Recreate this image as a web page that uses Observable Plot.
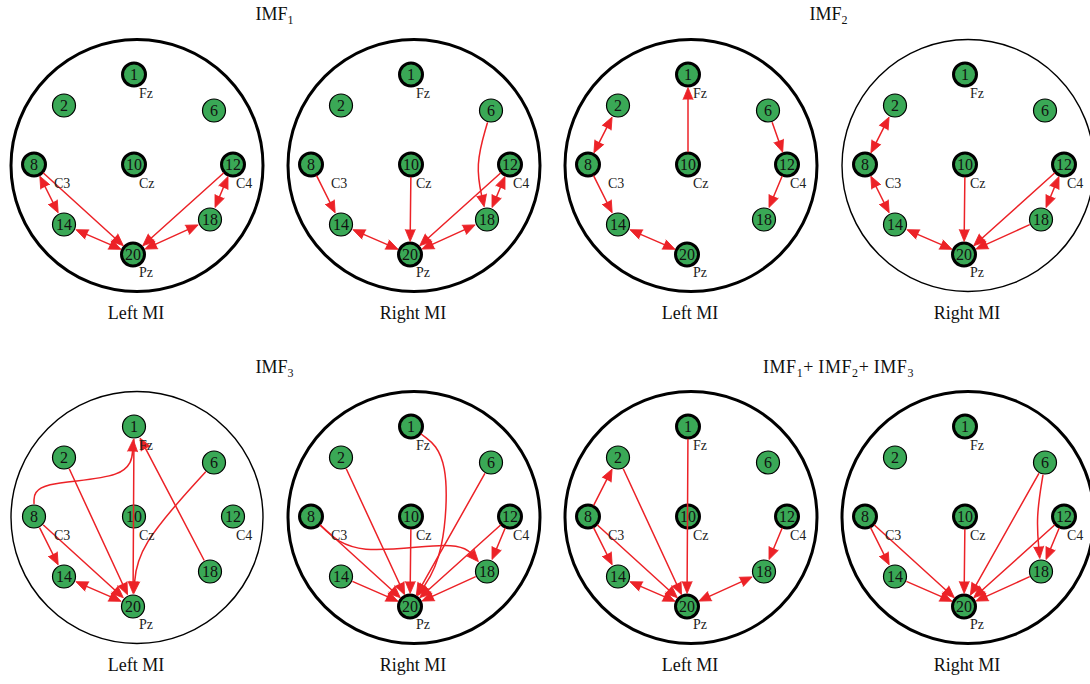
<!DOCTYPE html>
<html><head><meta charset="utf-8">
<script src="https://cdn.jsdelivr.net/npm/d3@7"></script>
<script src="https://cdn.jsdelivr.net/npm/@observablehq/plot@0.6"></script>
<style>
body{margin:0;background:#fff;}
#fig{position:relative;width:1090px;height:684px;overflow:hidden;background:#fff;font-family:"Liberation Serif","Times New Roman",serif;color:#111;}
.panel{position:absolute;width:277px;height:262px;}
.panel svg{display:block;overflow:visible;max-width:none !important;width:277px;height:262px;}
.title,.cap{position:absolute;transform:translateX(-50%);white-space:nowrap;font-size:18px;line-height:18px;}
.title sub{font-size:12px;vertical-align:-4px;line-height:0;}
</style></head><body><div id="fig"></div>
<script>
// ---- electrode montage (relative to head centre; y grows downward) ----
const electrodes = ["1","2","6","8","10","12","14","18","20"];
const electrodeX = [-3,-73,77,-103,-3,96,-73,73,-4];
const electrodeY = [-91,-60,-55,-1,-1,-1,59,54,89];
const siteNames  = ["Fz","C3","Cz","C4","Pz"];
const siteX      = [2,-83,2,99,2];
const siteY      = [-72,18,18,18,107];
const keyElectrodes = ["1","8","10","12","20"];

// ---- panels ----
const panelBand      = ["IMF1","IMF1","IMF2","IMF2","IMF3","IMF3","IMF1+IMF2+IMF3","IMF1+IMF2+IMF3"];
const panelCondition = ["Left MI","Right MI","Left MI","Right MI","Left MI","Right MI","Left MI","Right MI"];

// ---- directed connections: [from, to, kind, optional control points] ----
const edgesIMF1Left  = [["8","14","<->"],["8","20","->"],["14","20","<->"],["12","20","->"],["12","18","<->"],["18","20","<->"]];
const edgesIMF1Right = [["8","14","->"],["10","20","->"],["14","20","<->"],["12","20","->"],["12","18","<->"],["18","20","<->"],["6","18","->",[[61,0]]]];
const edgesIMF2Left  = [["10","1","->"],["2","8","<->"],["8","14","->"],["14","20","<->"],["6","12","->"],["12","18","->"]];
const edgesIMF2Right = [["2","8","<->"],["8","14","<->"],["14","20","<->"],["10","20","->"],["12","20","->"],["12","18","<->"],["18","20","->"]];
const edgesIMF3Left  = [["8","1","->",[[-103,-36],[-6,-38]]],["1","20","->"],["18","1","->"],["2","20","->"],["6","20","->",[[0,30]]],["8","14","->"],["8","20","->"],["14","20","<->"]];
const edgesIMF3Right = [["1","20","->",[[36,-62],[30,40]]],["2","20","->"],["6","20","->"],["8","20","->"],["8","18","->",[[-60,40],[45,22]]],["10","20","->"],["12","20","->"],["12","18","->"],["14","20","->"],["18","20","->"]];
const edgesSumLeft   = [["8","2","->"],["2","20","->"],["1","20","->"],["8","14","->"],["8","20","->"],["14","20","<->"],["12","18","->"],["18","20","<->"]];
const edgesSumRight  = [["8","14","->"],["8","20","->"],["14","20","->"],["10","20","->"],["6","20","->"],["6","18","->",[[68,0]]],["12","20","->"],["12","18","->"],["18","20","->"]];
const panelEdges = [edgesIMF1Left,edgesIMF1Right,edgesIMF2Left,edgesIMF2Right,edgesIMF3Left,edgesIMF3Right,edgesSumLeft,edgesSumRight];

// ---- styling ----
const headBold = [true,true,true,false,false,true,true,true];
const nodeBold = [true,true,true,true,false,true,true,true];
const RED = "#ec2227", GREEN = "#3aa856";
const NODE_R = 11.5, TIP_INSET = 13, HEAD_LEN = 12, HEAD_W = 5;
const W = 277, H = 262, HEAD_R = 126;

const nodes = electrodes.map((id,i)=>({id, x:electrodeX[i], y:electrodeY[i]}));
const pos = Object.fromEntries(nodes.map(n=>[n.id,[n.x,n.y]]));
const sites = siteNames.map((s,i)=>({s, x:siteX[i], y:siteY[i]}));

function unit(a,b){const dx=b[0]-a[0],dy=b[1]-a[1],l=Math.hypot(dx,dy);return [dx/l,dy/l];}
function deg(u){return Math.atan2(u[0],-u[1])*180/Math.PI;}

function buildEdges(list){
  const pts=[], heads=[];
  list.forEach(([a,b,kind,ctrl=[]],k)=>{
    const P0=pos[a], P3=pos[b], seq=[P0,...ctrl,P3];
    const u0=unit(seq[0],seq[1]), u1=unit(seq[seq.length-2],seq[seq.length-1]);
    const tipEnd=[P3[0]-TIP_INSET*u1[0],P3[1]-TIP_INSET*u1[1]];
    const tipStart=[P0[0]+TIP_INSET*u0[0],P0[1]+TIP_INSET*u0[1]];
    const both = kind==="<->";
    const start = both?[tipStart[0]+6*u0[0],tipStart[1]+6*u0[1]]:tipStart;
    const end=[tipEnd[0]-6*u1[0],tipEnd[1]-6*u1[1]];
    [start,...ctrl,end].forEach(p=>pts.push({id:k,x:p[0],y:p[1]}));
    heads.push({x:tipEnd[0],y:tipEnd[1],angle:deg(u1)});
    if(both) heads.push({x:tipStart[0],y:tipStart[1],angle:deg([-u0[0],-u0[1]])});
  });
  return {pts,heads};
}

const fig = document.getElementById("fig");
const colX = [136,413,690,967], rowY = [165,517];

panelEdges.forEach((list,i)=>{
  const b = Math.floor(i/2), c = i%2;
  const row = Math.floor(b/2), col = (b%2)*2 + c;
  const cx = colX[col], cy = rowY[row];
  const {pts,heads} = buildEdges(list);
  const bold = nodeBold[i];
  const chart = Plot.plot({
    width: W, height: H, margin: 0,
    x: {domain: [-W/2, W/2], axis: null},
    y: {domain: [H/2, -H/2], axis: null},
    style: {background: "transparent", overflow: "visible", maxWidth: "none"},
    marks: [
      Plot.dot([0], {x: 0, y: 0, r: HEAD_R, fill: "none", stroke: "#000", strokeWidth: headBold[i] ? 3 : 1.4}),
      Plot.dot(nodes.filter(n=>!(bold && keyElectrodes.includes(n.id))), {x:"x", y:"y", r: NODE_R, fill: GREEN, stroke: "#000", strokeWidth: 1.2}),
      Plot.dot(nodes.filter(n=>bold && keyElectrodes.includes(n.id)), {x:"x", y:"y", r: NODE_R, fill: GREEN, stroke: "#000", strokeWidth: 3}),
      Plot.text(nodes, {x:"x", y:"y", text:"id", fontSize: 16, fontFamily: "Liberation Serif", fill: "#111"}),
      Plot.line(pts, {x:"x", y:"y", z:"id", curve: "basis", stroke: RED, strokeWidth: 1.5}),
      Plot.vector(heads, {x:"x", y:"y", rotate:"angle", length: HEAD_LEN, r: HEAD_W, shape: "spike", anchor: "end", fill: RED, stroke: RED, strokeWidth: 0.8}),
      Plot.text(sites, {x:"x", y:"y", text:"s", textAnchor: "start", fontSize: 14, fontFamily: "Liberation Serif", fill: "#222"})
    ]
  });
  const d = document.createElement("div");
  d.className = "panel";
  d.style.left = (cx - W/2) + "px";
  d.style.top = (cy - H/2) + "px";
  d.appendChild(chart);
  fig.appendChild(d);

  const cap = document.createElement("div");
  cap.className = "cap";
  cap.textContent = panelCondition[i];
  cap.style.left = cx + "px";
  cap.style.top = (row ? 656 : 304) + "px";
  fig.appendChild(cap);

  if (c === 0) {
    const t = document.createElement("div");
    t.className = "title";
    t.innerHTML = panelBand[i].replace(/IMF(\d)/g, "IMF<sub>$1</sub>").replace(/\+(?=I)/g, "+\u2009");
    t.style.left = ((cx + colX[col+1]) / 2 + (b === 3 ? 10 : 0)) + "px";
    t.style.top = (row ? 358 : 5) + "px";
    if (b === 3) t.style.letterSpacing = "0.6px";
    fig.appendChild(t);
  }
});
</script></body></html>
